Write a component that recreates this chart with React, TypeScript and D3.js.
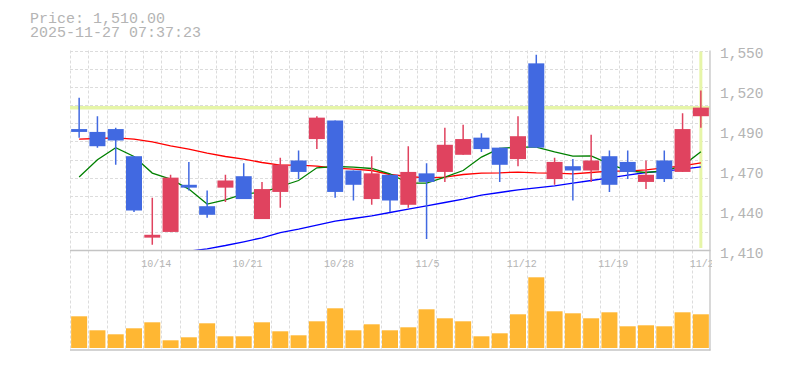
import React from "react";
import * as d3 from "d3";

const dates = ["10/7","10/8","10/9","10/10","10/14","10/15","10/16","10/17","10/20","10/21","10/22","10/23","10/24","10/27","10/28","10/29","10/30","10/31","11/4","11/5","11/6","11/7","11/10","11/11","11/12","11/13","11/14","11/17","11/18","11/19","11/20","11/21","11/25","11/26","11/27"];
const labelDates = ["10/14","10/21","10/28","11/5","11/12","11/19","11/27"];

const opens  = [1495,1493,1495,1476,1419,1423,1456,1441,1454,1462,1432,1451,1473,1488,1501,1466,1446,1463,1442,1464,1465,1477,1489,1482,1474,1541,1460,1469,1466,1476,1472,1458,1473,1465,1504];
const highs  = [1517,1504,1496,1476,1447,1463,1472,1452,1463,1471,1458,1475,1480,1504,1501,1466,1476,1463,1483,1471,1496,1498,1492,1482,1504,1547,1475,1474,1491,1480,1480,1473,1480,1506,1522];
const lows   = [1489,1482,1470,1437,1414,1423,1452,1433,1444,1446,1432,1440,1460,1481,1447,1445,1442,1437,1440,1418,1458,1477,1479,1458,1469,1482,1456,1445,1458,1451,1460,1453,1458,1465,1496];
const closes = [1493,1483,1487,1438,1421,1461,1454,1435,1459,1446,1453,1470,1465,1503,1451,1456,1464,1445,1465,1458,1484,1488,1481,1470,1490,1482,1472,1466,1473,1456,1465,1463,1460,1495,1510];

const ma5  = [1461.4,1473.5,1481.9,1475.8,1464.2,1460.0,1453.0,1442.5,1445.5,1449.7,1450.6,1454.8,1459.0,1467.9,1468.8,1468.4,1467.4,1463.7,1457.2,1457.2,1461.4,1466.0,1475.4,1481.4,1482.4,1482.4,1479.1,1476.1,1476.3,1470.7,1465.8,1464.6,1465.8,1469.3,1479.1];
const ma25 = [1488.0,1488.4,1488.9,1488.0,1486.1,1483.3,1481.0,1478.2,1475.8,1474.0,1471.6,1469.8,1469.8,1469.1,1467.7,1467.0,1466.0,1463.2,1461.8,1460.9,1461.4,1463.2,1464.2,1464.4,1464.9,1464.4,1464.2,1463.7,1464.6,1465.6,1465.6,1466.5,1467.9,1469.3,1471.4];
const ma75: (number | null)[] = [null,null,null,null,null,null,1409.6,1411.2,1413.5,1416.1,1418.9,1422.5,1425.0,1427.8,1430.6,1432.4,1434.3,1436.6,1439.0,1441.3,1443.6,1446.0,1448.8,1450.6,1452.5,1453.9,1455.3,1457.2,1459.0,1460.9,1462.8,1464.6,1465.6,1467.0,1468.6];

const volumes = [31700,17700,13700,19700,25700,7700,10700,24700,11700,11700,25700,16700,12700,26700,39700,17700,23700,17700,20700,38700,29700,26700,11700,14700,33700,70700,36700,34700,29700,35700,21700,22700,21700,35700,33700];

const yTickValues = [1410,1438,1466,1494,1522,1550];
const yTickLabels = ["1,410","1,440","1,470","1,490","1,520","1,550"];

const currentPrice = 1510;
const headerPrice = "Price: 1,510.00";
const headerTime = "2025-11-27 07:37:23";

const W = 785, H = 370;
const L = 70, R = 710;
const PT = 50.5, PB = 250.5;
const VT = 250.5, VB = 350.5, VBase = 348;

const UP = "#e0435f";
const DOWN = "#4169e1";
const GRID = "#dcdcdc";
const TXT = "#b4b4b4";
const CUR = "#e6f5a8";
const FONT = "'Liberation Mono', 'DejaVu Sans Mono', monospace";

export default function App() {
  const x = d3.scaleBand<string>().domain(dates).range([L, R]).paddingInner(0.125).paddingOuter(0.0625);
  const step = x.step();
  const bw = x.bandwidth();
  const cx = (d: string) => (x(d) as number) + bw / 2;
  const slotLeft = (d: string) => (x(d) as number) - (step - bw) / 2;

  const y = d3.scaleLinear().domain([1410, 1550]).range([PB, PT]);
  const yv = d3.scaleLinear().domain([0, 100000]).range([VBase, VBase - 100]);

  const hGridVals = d3.range(11).map((k) => 1410 + (k + 1) * 140 / 11);

  const lineGen = d3.line<number | null>()
    .defined((v) => v != null)
    .x((_, i) => cx(dates[i]))
    .y((v) => y(v as number));

  return (
    <svg width={W} height={H} style={{ position: "absolute", left: 0, top: 0, background: "#fff" }}>
      <defs>
        <clipPath id="pclip"><rect x={L} y={PT} width={R - L} height={PB - PT} /></clipPath>
        <clipPath id="vclip"><rect x={L} y={VT} width={R - L} height={VB - VT} /></clipPath>
        <clipPath id="lclip"><rect x={L} y={VT} width={R - L + 2} height={VB - VT} /></clipPath>
      </defs>

      <text x={30} y={22.5} fontFamily={FONT} fontSize={15} fill={TXT}>{headerPrice}</text>
      <text x={30} y={37} fontFamily={FONT} fontSize={15} fill={TXT}>{headerTime}</text>

      {/* grid */}
      <g stroke={GRID} strokeWidth={1} strokeDasharray="3,2" fill="none">
        {hGridVals.map((v, i) => (
          <line key={"h" + i} x1={L} x2={R} y1={Math.round(y(v)) + 0.5} y2={Math.round(y(v)) + 0.5} />
        ))}
        {dates.map((d, i) => (
          <line key={"v" + i} x1={Math.round(slotLeft(d)) + 0.5} x2={Math.round(slotLeft(d)) + 0.5} y1={PT} y2={VB} />
        ))}
      </g>

      {/* current price lines */}
      <line x1={L} x2={R} y1={y(currentPrice)} y2={y(currentPrice)} stroke={CUR} strokeWidth={3.5} />
      <line x1={cx(dates[dates.length - 1])} x2={cx(dates[dates.length - 1])} y1={PT + 1} y2={PB - 2.5} stroke={CUR} strokeWidth={3} />

      {/* moving averages */}
      <g clipPath="url(#pclip)" fill="none" strokeWidth={1.3}>
        <path d={lineGen(ma75) || ""} stroke="#0000ff" />
        <path d={lineGen(ma25) || ""} stroke="#ff0000" />
        <path d={lineGen(ma5) || ""} stroke="#008000" />
      </g>

      {/* candles */}
      <g clipPath="url(#pclip)">
        {dates.map((d, i) => {
          const o = opens[i], c = closes[i], hi = highs[i], lo = lows[i];
          const col = c >= o ? UP : DOWN;
          const top = y(Math.max(o, c));
          const bot = y(Math.min(o, c));
          return (
            <g key={d}>
              <line x1={cx(d)} x2={cx(d)} y1={y(hi)} y2={y(lo)} stroke={col} strokeWidth={1.5} />
              <rect x={x(d)} y={top} width={bw} height={Math.max(bot - top, 1.5)} fill={col} />
            </g>
          );
        })}
      </g>

      {/* volume bars */}
      <g clipPath="url(#vclip)">
        {dates.map((d, i) => (
          <rect key={d} x={x(d)} y={yv(volumes[i])} width={bw} height={VBase - yv(volumes[i])} fill="#ffb733" />
        ))}
      </g>

      {/* x labels */}
      <g clipPath="url(#lclip)">
        {labelDates.map((d) => (
          <text key={d} x={slotLeft(d) - 2} y={266.5} fontFamily={FONT} fontSize={10} fill={TXT}>{d}</text>
        ))}
      </g>

      {/* borders */}
      <g stroke="#c4c4c4" strokeWidth={1.3} fill="none">
        <line x1={L} x2={R + 0.5} y1={PB} y2={PB} />
        <line x1={L} x2={R + 0.5} y1={VB - 0.5} y2={VB - 0.5} />
        <line x1={R} x2={R} y1={PT} y2={VB} />
      </g>

      {/* y labels */}
      {yTickValues.map((v, i) => (
        <text key={v} x={720} y={y(v) + 7} fontFamily={FONT} fontSize={14.5} fill={TXT}>{yTickLabels[i]}</text>
      ))}
    </svg>
  );
}
